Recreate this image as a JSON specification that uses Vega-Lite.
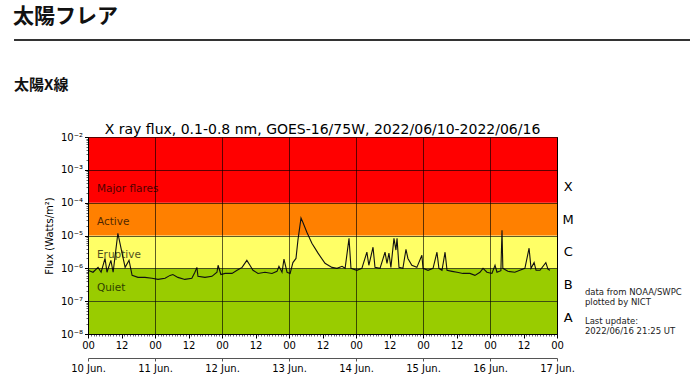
{
  "$schema": "https://vega.github.io/schema/vega-lite/v6.json",
  "width": 469,
  "height": 197,
  "autosize": {"type": "none"},
  "padding": {"left": 88, "top": 137, "right": 133, "bottom": 54},
  "background": "white",
  "config": {
    "view": {"stroke": "black", "strokeWidth": 1},
    "font": "DejaVu Sans",
    "text": {"font": "DejaVu Sans"},
    "axis": {"labelFont": "DejaVu Sans", "titleFont": "DejaVu Sans"}
  },
  "title": {"text": "太陽フレア", "anchor": "start", "frame": "bounds", "font": "Noto Sans CJK JP", "fontSize": 21, "fontWeight": "bold", "color": "#111111", "offset": 12},
  "datasets": {
    "classes": [
      {"class": "A", "band": "Quiet", "name": "", "lo": 1e-8, "hi": 1e-7},
      {"class": "B", "band": "Quiet", "name": "Quiet", "lo": 1e-7, "hi": 1e-6},
      {"class": "C", "band": "Eruptive", "name": "Eruptive", "lo": 1e-6, "hi": 1e-5},
      {"class": "M", "band": "Active", "name": "Active", "lo": 1e-5, "hi": 1e-4},
      {"class": "X", "band": "Major flares", "name": "Major flares", "lo": 1e-4, "hi": 1e-2}
    ],
    "flux": [
      {"t": "2022-06-10T00:00:00Z", "flux": 8.7e-7},
      {"t": "2022-06-10T01:48:00Z", "flux": 7.6e-7},
      {"t": "2022-06-10T03:36:00Z", "flux": 1.07e-6},
      {"t": "2022-06-10T04:42:00Z", "flux": 7.6e-7},
      {"t": "2022-06-10T06:06:00Z", "flux": 2.0e-6},
      {"t": "2022-06-10T06:48:00Z", "flux": 7.6e-7},
      {"t": "2022-06-10T08:12:00Z", "flux": 1.75e-6},
      {"t": "2022-06-10T09:00:00Z", "flux": 7.6e-7},
      {"t": "2022-06-10T10:42:00Z", "flux": 1.17e-5},
      {"t": "2022-06-10T12:12:00Z", "flux": 2.9e-6},
      {"t": "2022-06-10T13:18:00Z", "flux": 1.07e-6},
      {"t": "2022-06-10T14:42:00Z", "flux": 1.75e-6},
      {"t": "2022-06-10T15:48:00Z", "flux": 6.1e-7},
      {"t": "2022-06-10T17:54:00Z", "flux": 5.3e-7},
      {"t": "2022-06-10T20:24:00Z", "flux": 5.3e-7},
      {"t": "2022-06-10T22:54:00Z", "flux": 5.0e-7},
      {"t": "2022-06-11T01:06:00Z", "flux": 4.6e-7},
      {"t": "2022-06-11T03:36:00Z", "flux": 5.0e-7},
      {"t": "2022-06-11T05:24:00Z", "flux": 6.1e-7},
      {"t": "2022-06-11T06:24:00Z", "flux": 6.5e-7},
      {"t": "2022-06-11T08:12:00Z", "flux": 5.3e-7},
      {"t": "2022-06-11T10:42:00Z", "flux": 4.6e-7},
      {"t": "2022-06-11T13:12:00Z", "flux": 5.0e-7},
      {"t": "2022-06-11T14:18:00Z", "flux": 7.6e-7},
      {"t": "2022-06-11T15:00:00Z", "flux": 1.07e-6},
      {"t": "2022-06-11T15:24:00Z", "flux": 5.7e-7},
      {"t": "2022-06-11T17:54:00Z", "flux": 5.3e-7},
      {"t": "2022-06-11T20:24:00Z", "flux": 5.7e-7},
      {"t": "2022-06-11T22:12:00Z", "flux": 7.6e-7},
      {"t": "2022-06-11T22:36:00Z", "flux": 1.24e-6},
      {"t": "2022-06-11T23:36:00Z", "flux": 6.5e-7},
      {"t": "2022-06-12T01:06:00Z", "flux": 7.0e-7},
      {"t": "2022-06-12T03:36:00Z", "flux": 7.0e-7},
      {"t": "2022-06-12T05:24:00Z", "flux": 8.7e-7},
      {"t": "2022-06-12T07:12:00Z", "flux": 1.07e-6},
      {"t": "2022-06-12T08:54:00Z", "flux": 1.75e-6},
      {"t": "2022-06-12T10:00:00Z", "flux": 1.24e-6},
      {"t": "2022-06-12T11:06:00Z", "flux": 8.7e-7},
      {"t": "2022-06-12T12:54:00Z", "flux": 7.0e-7},
      {"t": "2022-06-12T15:24:00Z", "flux": 7.6e-7},
      {"t": "2022-06-12T17:54:00Z", "flux": 7.0e-7},
      {"t": "2022-06-12T19:42:00Z", "flux": 8.1e-7},
      {"t": "2022-06-12T20:24:00Z", "flux": 1.15e-6},
      {"t": "2022-06-12T21:30:00Z", "flux": 7.6e-7},
      {"t": "2022-06-12T22:12:00Z", "flux": 1.9e-6},
      {"t": "2022-06-12T23:18:00Z", "flux": 7.6e-7},
      {"t": "2022-06-13T00:24:00Z", "flux": 7.0e-7},
      {"t": "2022-06-13T01:24:00Z", "flux": 1.5e-6},
      {"t": "2022-06-13T02:30:00Z", "flux": 2.0e-6},
      {"t": "2022-06-13T03:12:00Z", "flux": 7.2e-6},
      {"t": "2022-06-13T04:18:00Z", "flux": 3.4e-5},
      {"t": "2022-06-13T05:00:00Z", "flux": 2.5e-5},
      {"t": "2022-06-13T06:24:00Z", "flux": 1.26e-5},
      {"t": "2022-06-13T08:12:00Z", "flux": 5.8e-6},
      {"t": "2022-06-13T10:24:00Z", "flux": 2.9e-6},
      {"t": "2022-06-13T12:54:00Z", "flux": 1.42e-6},
      {"t": "2022-06-13T15:24:00Z", "flux": 1.07e-6},
      {"t": "2022-06-13T17:12:00Z", "flux": 1.0e-6},
      {"t": "2022-06-13T19:00:00Z", "flux": 1.15e-6},
      {"t": "2022-06-13T20:06:00Z", "flux": 1.0e-6},
      {"t": "2022-06-13T21:30:00Z", "flux": 8.2e-6},
      {"t": "2022-06-13T22:12:00Z", "flux": 1.0e-6},
      {"t": "2022-06-14T00:18:00Z", "flux": 8.7e-7},
      {"t": "2022-06-14T02:06:00Z", "flux": 1.0e-6},
      {"t": "2022-06-14T03:54:00Z", "flux": 3.1e-6},
      {"t": "2022-06-14T04:36:00Z", "flux": 1.24e-6},
      {"t": "2022-06-14T06:06:00Z", "flux": 4.4e-6},
      {"t": "2022-06-14T06:48:00Z", "flux": 1.07e-6},
      {"t": "2022-06-14T08:36:00Z", "flux": 1.0e-6},
      {"t": "2022-06-14T10:24:00Z", "flux": 3.1e-6},
      {"t": "2022-06-14T11:06:00Z", "flux": 1.42e-6},
      {"t": "2022-06-14T11:48:00Z", "flux": 2.9e-6},
      {"t": "2022-06-14T12:30:00Z", "flux": 1.07e-6},
      {"t": "2022-06-14T13:36:00Z", "flux": 8.2e-6},
      {"t": "2022-06-14T14:18:00Z", "flux": 3.6e-6},
      {"t": "2022-06-14T14:42:00Z", "flux": 8.2e-6},
      {"t": "2022-06-14T15:24:00Z", "flux": 1.07e-6},
      {"t": "2022-06-14T16:48:00Z", "flux": 1.0e-6},
      {"t": "2022-06-14T17:54:00Z", "flux": 3.8e-6},
      {"t": "2022-06-14T18:36:00Z", "flux": 2.0e-6},
      {"t": "2022-06-14T20:00:00Z", "flux": 1.24e-6},
      {"t": "2022-06-14T21:48:00Z", "flux": 1.07e-6},
      {"t": "2022-06-14T23:36:00Z", "flux": 2.5e-6},
      {"t": "2022-06-15T00:00:00Z", "flux": 1.0e-6},
      {"t": "2022-06-15T01:48:00Z", "flux": 8.7e-7},
      {"t": "2022-06-15T03:36:00Z", "flux": 1.0e-6},
      {"t": "2022-06-15T05:00:00Z", "flux": 3.1e-6},
      {"t": "2022-06-15T05:42:00Z", "flux": 1.0e-6},
      {"t": "2022-06-15T06:48:00Z", "flux": 8.7e-7},
      {"t": "2022-06-15T07:54:00Z", "flux": 3.1e-6},
      {"t": "2022-06-15T08:36:00Z", "flux": 8.7e-7},
      {"t": "2022-06-15T10:24:00Z", "flux": 8.1e-7},
      {"t": "2022-06-15T12:12:00Z", "flux": 7.6e-7},
      {"t": "2022-06-15T14:18:00Z", "flux": 7.0e-7},
      {"t": "2022-06-15T16:48:00Z", "flux": 7.0e-7},
      {"t": "2022-06-15T18:36:00Z", "flux": 6.1e-7},
      {"t": "2022-06-15T20:24:00Z", "flux": 7.6e-7},
      {"t": "2022-06-15T21:30:00Z", "flux": 1.0e-6},
      {"t": "2022-06-15T22:54:00Z", "flux": 7.6e-7},
      {"t": "2022-06-16T00:42:00Z", "flux": 7.0e-7},
      {"t": "2022-06-16T01:48:00Z", "flux": 1.24e-6},
      {"t": "2022-06-16T02:30:00Z", "flux": 7.6e-7},
      {"t": "2022-06-16T03:54:00Z", "flux": 8.5e-7},
      {"t": "2022-06-16T04:18:00Z", "flux": 1.45e-5},
      {"t": "2022-06-16T04:36:00Z", "flux": 1.0e-6},
      {"t": "2022-06-16T06:24:00Z", "flux": 8.1e-7},
      {"t": "2022-06-16T08:54:00Z", "flux": 7.6e-7},
      {"t": "2022-06-16T10:42:00Z", "flux": 8.7e-7},
      {"t": "2022-06-16T12:30:00Z", "flux": 1.0e-6},
      {"t": "2022-06-16T14:00:00Z", "flux": 4.1e-6},
      {"t": "2022-06-16T14:42:00Z", "flux": 1.0e-6},
      {"t": "2022-06-16T15:48:00Z", "flux": 1.5e-6},
      {"t": "2022-06-16T16:30:00Z", "flux": 8.7e-7},
      {"t": "2022-06-16T17:54:00Z", "flux": 8.7e-7},
      {"t": "2022-06-16T20:00:00Z", "flux": 1.5e-6},
      {"t": "2022-06-16T20:48:00Z", "flux": 9.3e-7},
      {"t": "2022-06-16T21:30:00Z", "flux": 8.7e-7}
    ]
  },
  "resolve": {"axis": {"x": "independent", "y": "independent"}},
  "layer": [
    {
      "data": {"name": "classes"},
      "mark": {"type": "rect"},
      "encoding": {
        "y": {"field": "lo", "type": "quantitative", "scale": {"type": "log", "domain": [1e-8, 1e-2], "nice": false},
          "axis": {"orient": "left", "values": [1e-8, 1e-7, 1e-6, 1e-5, 1e-4, 1e-3, 1e-2],
            "labelExpr": "datum.value < 5e-8 ? '10⁻⁸' : datum.value < 5e-7 ? '10⁻⁷' : datum.value < 5e-6 ? '10⁻⁶' : datum.value < 5e-5 ? '10⁻⁵' : datum.value < 5e-4 ? '10⁻⁴' : datum.value < 5e-3 ? '10⁻³' : '10⁻²'",
            "title": "Flux (Watts/m²)", "grid": true, "gridColor": "black", "gridWidth": 0.8, "gridOpacity": 0.8,
            "tickColor": "black", "tickSize": 3.5, "domainColor": "black", "labelColor": "black", "labelFontSize": 10,
            "labelPadding": 2, "labelOverlap": false, "titleFontSize": 10, "titleFontWeight": "normal", "titleColor": "black", "titlePadding": 6, "zindex": 1}},
        "y2": {"field": "hi"},
        "color": {"field": "band", "type": "nominal", "legend": null,
          "scale": {"domain": ["Major flares", "Active", "Eruptive", "Quiet"], "range": ["#ff0000", "#ff8000", "#ffff66", "#99cc00"]}}
      }
    },
    {
      "data": {"name": "flux"},
      "mark": {"type": "line", "color": "#111111", "strokeWidth": 1.1},
      "encoding": {
        "x": {"field": "t", "type": "temporal",
          "scale": {"type": "utc", "domain": [{"year": 2022, "month": 6, "date": 10, "utc": true}, {"year": 2022, "month": 6, "date": 17, "utc": true}], "nice": false},
          "axis": {"orient": "bottom", "tickCount": 14,
            "labelExpr": "utchours(datum.value) == 0 ? '00' : '12'",
            "grid": true, "gridColor": "black", "gridWidth": 0.8,
            "gridOpacity": {"condition": {"test": "utchours(datum.value) == 0", "value": 0.8}, "value": 0},
            "domainColor": "black", "tickColor": "black", "tickSize": 4, "labelFontSize": 10, "labelColor": "black",
            "labelPadding": 2, "labelFlush": false, "labelOverlap": false, "title": null, "zindex": 1}},
        "y": {"field": "flux", "type": "quantitative",
          "axis": {"orient": "left", "values": [2e-8, 3e-8, 4e-8, 5e-8, 6e-8, 7e-8, 8e-8, 9e-8, 2e-7, 3e-7, 4e-7, 5e-7, 6e-7, 7e-7, 8e-7, 9e-7, 2e-6, 3e-6, 4e-6, 5e-6, 6e-6, 7e-6, 8e-6, 9e-6, 2e-5, 3e-5, 4e-5, 5e-5, 6e-5, 7e-5, 8e-5, 9e-5, 2e-4, 3e-4, 4e-4, 5e-4, 6e-4, 7e-4, 8e-4, 9e-4, 2e-3, 3e-3, 4e-3, 5e-3, 6e-3, 7e-3, 8e-3, 9e-3],
            "labels": false, "domain": false, "grid": false, "tickSize": 2, "tickColor": "black", "tickWidth": 0.6, "title": null, "zindex": 1}}
      }
    },
    {
      "data": {"name": "classes"},
      "mark": {"type": "text", "align": "left", "baseline": "middle", "dy": -13.5, "fontSize": 10.5, "fill": "black", "opacity": 0.7},
      "encoding": {
        "x": {"datum": {"year": 2022, "month": 6, "date": 10, "hours": 3, "minutes": 12, "utc": true}, "type": "temporal",
          "axis": {"orient": "bottom", "offset": 24, "tickCount": 7,
            "labelExpr": "utcFormat(datum.value, '%-d %b.')", "grid": false,
            "domainColor": "#555555", "tickColor": "#555555", "tickSize": 3, "labelFontSize": 10, "labelColor": "black",
            "labelPadding": 2, "labelFlush": false, "labelOverlap": false, "title": null, "zindex": 1}},
        "y": {"field": "lo", "type": "quantitative", "axis": null},
        "text": {"field": "name"}
      }
    },
    {
      "data": {"name": "classes"},
      "mark": {"type": "text", "align": "center", "baseline": "middle", "dy": -16, "fontSize": 13, "fill": "black"},
      "encoding": {
        "x": {"datum": {"year": 2022, "month": 6, "date": 17, "hours": 4, "utc": true}, "type": "temporal",
          "axis": {"orient": "bottom", "tickCount": 168, "labels": false, "domain": false, "grid": false,
            "tickSize": 2, "tickColor": "black", "tickWidth": 0.6, "title": null, "zindex": 1}},
        "y": {"field": "lo", "type": "quantitative", "axis": null},
        "text": {"field": "class"}
      }
    },
    {
      "data": {"values": [{}]},
      "mark": {"type": "text", "text": "X ray flux, 0.1-0.8 nm, GOES-16/75W, 2022/06/10-2022/06/16", "fontSize": 14, "align": "center", "baseline": "alphabetic", "fill": "black"},
      "encoding": {
        "x": {"datum": {"year": 2022, "month": 6, "date": 13, "hours": 12, "utc": true}, "type": "temporal", "axis": null},
        "y": {"datum": 0.0123, "type": "quantitative", "axis": null}
      }
    },
    {
      "data": {"values": [{}]},
      "mark": {"type": "text", "text": ["data from NOAA/SWPC", "plotted by NICT"], "fontSize": 8.5, "lineHeight": 9.7, "align": "left", "baseline": "alphabetic", "fill": "#222222"},
      "encoding": {
        "x": {"datum": {"year": 2022, "month": 6, "date": 17, "hours": 10, "utc": true}, "type": "temporal", "axis": null},
        "y": {"datum": 1.54e-7, "type": "quantitative", "axis": null}
      }
    },
    {
      "data": {"values": [{}]},
      "mark": {"type": "text", "text": ["Last update:", "2022/06/16 21:25 UT"], "fontSize": 8.5, "lineHeight": 9.7, "align": "left", "baseline": "alphabetic", "fill": "#222222"},
      "encoding": {
        "x": {"datum": {"year": 2022, "month": 6, "date": 17, "hours": 10, "utc": true}, "type": "temporal", "axis": null},
        "y": {"datum": 2.01e-8, "type": "quantitative", "axis": null}
      }
    },
    {
      "data": {"values": [{}]},
      "mark": {"type": "text", "text": "太陽X線", "font": "Noto Sans CJK JP", "fontWeight": "bold", "fontSize": 15, "align": "left", "baseline": "middle", "fill": "#111111"},
      "encoding": {
        "x": {"datum": {"year": 2022, "month": 6, "date": 8, "hours": 21, "minutes": 30, "utc": true}, "type": "temporal", "axis": null},
        "y": {"datum": 0.384, "type": "quantitative", "axis": null}
      }
    },
    {
      "data": {"values": [{}]},
      "mark": {"type": "rule", "color": "#333333", "strokeWidth": 2},
      "encoding": {
        "x": {"datum": {"year": 2022, "month": 6, "date": 8, "hours": 21, "minutes": 30, "utc": true}, "type": "temporal", "axis": null},
        "x2": {"datum": {"year": 2022, "month": 6, "date": 19, "hours": 6, "utc": true}},
        "y": {"datum": 9.0, "type": "quantitative", "axis": null}
      }
    }
  ]
}
